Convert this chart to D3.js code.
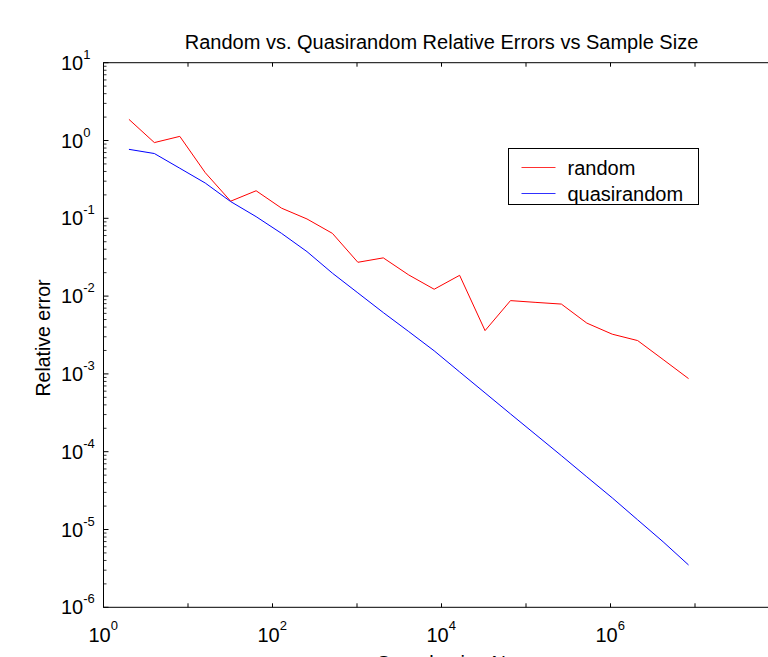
<!DOCTYPE html>
<html>
<head>
<meta charset="utf-8">
<script src="https://cdn.jsdelivr.net/npm/d3@7/dist/d3.min.js"></script>
<style>
  body { margin: 0; background: #fff; overflow: hidden; }
  svg { display: block; font-family: "Liberation Sans", Arial, sans-serif; }
</style>
</head>
<body>
<svg id="chart"></svg>
<script>
// sample sizes N = 2^1 .. 2^23
const sampleSizes = [2, 4, 8, 16, 32, 64, 128, 256, 512, 1024, 2048, 4096, 8192, 16384,
  32768, 65536, 131072, 262144, 524288, 1048576, 2097152, 4194304, 8388608];

const randomErr = [1.87, 0.94, 1.13, 0.386, 0.166, 0.226, 0.135, 0.098, 0.064, 0.0272,
  0.031, 0.0187, 0.01225, 0.0185, 0.0036, 0.00875, 0.0083, 0.0079, 0.0045, 0.00324,
  0.00268, 0.00153, 0.00087];

const quasiErr = [0.77, 0.68, 0.44, 0.284, 0.164, 0.105, 0.064, 0.0373, 0.0197, 0.011,
  0.00614, 0.0035, 0.00198, 0.00106, 0.00057, 0.000306, 0.000165, 0.000089, 0.0000475,
  0.0000255, 0.0000133, 0.00000695, 0.0000035];

// the 10^8 label falls outside the window in the reference
const xTickExps = [0, 2, 4, 6];
const yTickExps = ['1', '0', '-1', '-2', '-3', '-4', '-5', '-6'];

const width = 768, height = 657;
const plotLeft = 103.5, plotTop = 62.7, plotRight = 779.5, plotBottom = 607.3;
const fontSize = 20, supSize = 13;

const svg = d3.select('#chart').attr('width', width).attr('height', height);

const x = d3.scaleLog().domain([1, 1e8]).range([plotLeft, plotRight]);
const y = d3.scaleLog().domain([1e-6, 10]).range([plotBottom, plotTop]);

// axes box
svg.append('rect')
  .attr('x', plotLeft).attr('y', plotTop)
  .attr('width', plotRight - plotLeft).attr('height', plotBottom - plotTop)
  .attr('fill', 'none').attr('stroke', '#000').attr('stroke-width', 1);

// x ticks (bottom and top), every decade
d3.range(0, 9).forEach(function(e) {
  const px = x(Math.pow(10, e));
  svg.append('line').attr('x1', px).attr('x2', px).attr('y1', plotBottom).attr('y2', plotBottom - 4)
    .attr('stroke', '#000');
  svg.append('line').attr('x1', px).attr('x2', px).attr('y1', plotTop).attr('y2', plotTop + 4)
    .attr('stroke', '#000');
});

// y ticks, major and minor, left side
for (let e = -6; e <= 1; e++) {
  const py = y(Math.pow(10, e));
  svg.append('line').attr('x1', plotLeft).attr('x2', plotLeft + 5).attr('y1', py).attr('y2', py)
    .attr('stroke', '#000');
  if (e < 1) {
    for (let m = 2; m <= 9; m++) {
      const pm = y(m * Math.pow(10, e));
      svg.append('line').attr('x1', plotLeft).attr('x2', plotLeft + 3).attr('y1', pm).attr('y2', pm)
        .attr('stroke', '#000').attr('stroke-width', 0.8);
    }
  }
}

// x tick labels
xTickExps.forEach(function(e) {
  const t = svg.append('text')
    .attr('x', x(Math.pow(10, e)) - 15).attr('y', 642)
    .attr('font-size', fontSize);
  t.append('tspan').text('10');
  t.append('tspan').attr('dy', -12).attr('font-size', supSize).text(e);
});

// y tick labels, left aligned like matlab
yTickExps.forEach(function(e) {
  const t = svg.append('text')
    .attr('x', 61).attr('y', y(Math.pow(10, +e)) + 7)
    .attr('font-size', fontSize);
  t.append('tspan').text('10');
  t.append('tspan').attr('dy', -11).attr('font-size', supSize).text(e);
});

// lines
const line = d3.line()
  .x((d, i) => x(sampleSizes[i]))
  .y(d => y(d));

svg.append('path').datum(randomErr)
  .attr('d', line).attr('fill', 'none').attr('stroke', '#ff0000').attr('stroke-width', 1);
svg.append('path').datum(quasiErr)
  .attr('d', line).attr('fill', 'none').attr('stroke', '#0000ff').attr('stroke-width', 1);

// title and labels
svg.append('text')
  .attr('x', (plotLeft + plotRight) / 2).attr('y', 49)
  .attr('text-anchor', 'middle').attr('font-size', fontSize)
  .text('Random vs. Quasirandom Relative Errors vs Sample Size');

svg.append('text')
  .attr('transform', 'translate(50,' + ((plotTop + plotBottom) / 2 + 3) + ') rotate(-90)')
  .attr('text-anchor', 'middle').attr('font-size', 19.5)
  .text('Relative error');

svg.append('text')
  .attr('x', (plotLeft + plotRight) / 2).attr('y', 670)
  .attr('text-anchor', 'middle').attr('font-size', fontSize)
  .text('Sample size N');

// legend
const legend = svg.append('g').attr('transform', 'translate(508.5,148.5)');
legend.append('rect').attr('width', 190).attr('height', 56)
  .attr('fill', '#fff').attr('stroke', '#000');
const entries = [['random', '#ff3030'], ['quasirandom', '#3030ff']];
entries.forEach(function(d, i) {
  const ly = 19 + i * 26;
  legend.append('line').attr('x1', 13).attr('x2', 47).attr('y1', ly).attr('y2', ly)
    .attr('stroke', d[1]);
  legend.append('text').attr('x', 59).attr('y', ly + 7).attr('font-size', fontSize).text(d[0]);
});
</script>
</body>
</html>
